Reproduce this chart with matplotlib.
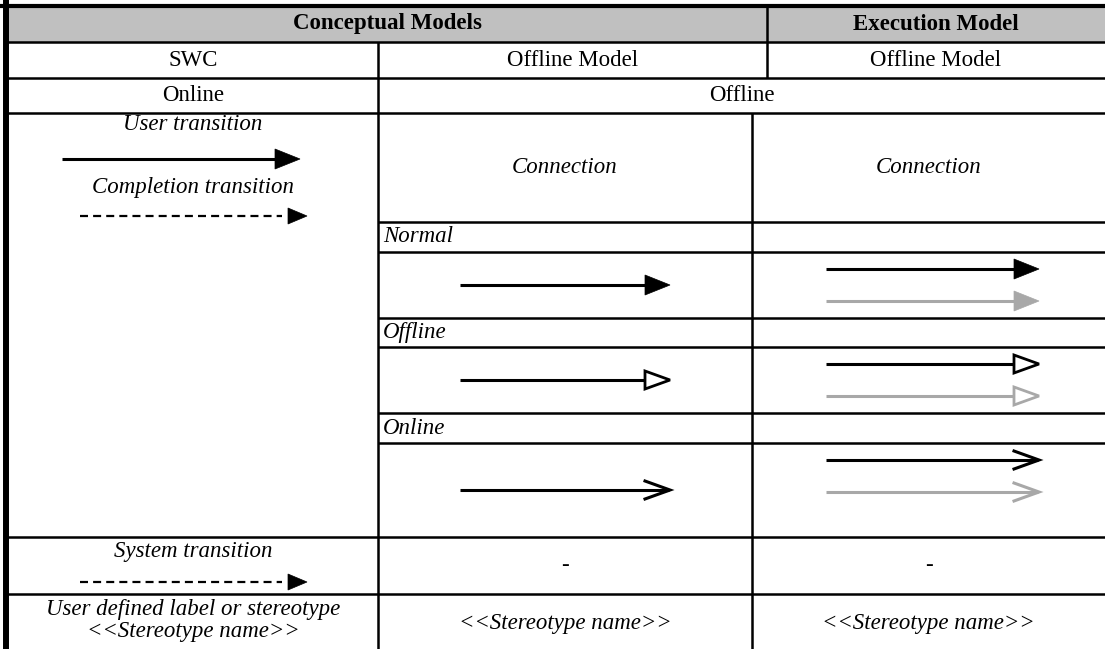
import matplotlib.pyplot as plt
from matplotlib.patches import Polygon, Rectangle

# ---- table content ----
header_texts = ['Conceptual Models', 'Execution Model']
row2_texts = ['SWC', 'Offline Model', 'Offline Model']
row3_texts = ['Online', 'Offline']
left_labels = ['User transition', 'Completion transition']
group_labels = ['Normal', 'Offline', 'Online']
head_kinds = ['filled', 'open', 'vee']
system_label = 'System transition'
stereo_left = ['User defined label or stereotype', '<<Stereotype name>>']
stereo_text = '<<Stereotype name>>'
dash_text = '-'

# row edges (pixels, top to bottom)
top = 6
y_hdr, y_r2, y_r3 = 42, 78, 113
y_conn = 222
group_rows = [(222, 252, 318), (318, 347, 413), (413, 443, 537)]
y_sys = 594
bottom = 649

# column edges
x_left = 8
x_c1 = 378
x_top_split = 767
x_c2 = 752
x_right = 1105

BLACK = '#000000'
GREY = '#a8a8a8'
FS = 16.5
LW = 1.8

fig = plt.figure(figsize=(11.05, 6.49), dpi=100)
ax = fig.add_axes([0, 0, 1, 1])
ax.set_xlim(0, 1105)
ax.set_ylim(649, 0)
ax.axis('off')


def txt(x, y, s, ha='center', style='normal', weight='normal'):
    ax.text(x, y, s, ha=ha, va='center', fontsize=FS, family='Liberation Serif',
            style=style, weight=weight, color='black')


def hline(y, x0, x1, lw=LW):
    ax.plot([x0, x1], [y, y], color='black', lw=lw, solid_capstyle='butt')


def vline(x, y0, y1, lw=LW):
    ax.plot([x, x], [y0, y1], color='black', lw=lw, solid_capstyle='butt')


def arrow(x0, x1, y, kind='filled', color=BLACK, dashed=False):
    hl, hw = 25, 10
    if dashed:
        ax.plot([x0, x1 - hl], [y, y], color=color, lw=1.6, linestyle=(0, (3.6, 2.3)))
        ax.add_patch(Polygon([[x1, y], [x1 - hl + 6, y - 8], [x1 - hl + 6, y + 8]],
                             closed=True, fc=color, ec=color, lw=0.5))
        return
    if kind == 'filled':
        ax.plot([x0, x1 - hl + 2], [y, y], color=color, lw=2.2, solid_capstyle='butt')
        ax.add_patch(Polygon([[x1, y], [x1 - hl, y - hw], [x1 - hl, y + hw]],
                             closed=True, fc=color, ec=color, lw=0.5))
    elif kind == 'open':
        ax.plot([x0, x1 - hl], [y, y], color=color, lw=2.2, solid_capstyle='butt')
        ax.add_patch(Polygon([[x1, y], [x1 - hl, y - 9], [x1 - hl, y + 9]],
                             closed=True, fc='white', ec=color, lw=2.0, joinstyle='miter'))
    else:
        ax.plot([x0, x1 - 1], [y, y], color=color, lw=2.2, solid_capstyle='butt')
        ax.plot([x1 - hl, x1, x1 - hl], [y - 9, y, y + 9], color=color, lw=2.2,
                solid_joinstyle='miter')


# header background
ax.add_patch(Rectangle((x_left, top), x_right - x_left, y_hdr - top, fc='#c0c0c0', ec='none'))

# grid lines
hline(top, 0, x_right, lw=3.0)
vline(x_left - 2, 0, bottom, lw=4.3)
for y in (y_hdr, y_r2, y_r3, group_rows[2][2], y_sys):
    hline(y, x_left, x_right)
for y_a, y_b, y_c in group_rows:
    hline(y_a, x_c1, x_right)
    hline(y_b, x_c1, x_right)
vline(x_top_split, top, y_r2)
vline(x_c1, y_hdr, bottom)
vline(x_c2, y_r3, bottom)

# header and top rows
txt((x_left + x_top_split) / 2, (top + y_hdr) / 2, header_texts[0], weight='bold')
txt((x_top_split + x_right) / 2, (top + y_hdr) / 2, header_texts[1], weight='bold')
txt((x_left + x_c1) / 2, (y_hdr + y_r2) / 2, row2_texts[0])
txt((x_c1 + x_top_split) / 2, (y_hdr + y_r2) / 2, row2_texts[1])
txt((x_top_split + x_right) / 2, (y_hdr + y_r2) / 2, row2_texts[2])
txt((x_left + x_c1) / 2, (y_r2 + y_r3) / 2, row3_texts[0])
txt((x_c1 + x_right) / 2, (y_r2 + y_r3) / 2, row3_texts[1])

# left column legend
cx_left = (x_left + x_c1) / 2
txt(cx_left, y_r3 + 12, left_labels[0], style='italic')
arrow(62, 300, y_r3 + 46)
txt(cx_left, y_r3 + 74, left_labels[1], style='italic')
arrow(80, 307, y_r3 + 103, dashed=True)

# connection row
cx_mid = (x_c1 + x_c2) / 2
cx_right = (x_c2 + x_right) / 2
txt(cx_mid, (y_r3 + y_conn) / 2, 'Connection', style='italic')
txt(cx_right, (y_r3 + y_conn) / 2, 'Connection', style='italic')

# groups
for (y_a, y_b, y_c), label, kind in zip(group_rows, group_labels, head_kinds):
    txt(x_c1 + 5, (y_a + y_b) / 2, label, ha='left', style='italic')
    arrow(460, 670, (y_b + y_c) / 2, kind=kind)
    arrow(826, 1039, y_b + 17, kind=kind, color=BLACK)
    arrow(826, 1039, y_b + 49, kind=kind, color=GREY)

# system transition row
y_on = group_rows[2][2]
txt(cx_left, y_on + 15, system_label, style='italic')
arrow(80, 307, y_on + 45, dashed=True)
txt(cx_mid, (y_on + y_sys) / 2, dash_text)
txt(cx_right, (y_on + y_sys) / 2, dash_text)

# stereotype row
txt(cx_left, y_sys + 16, stereo_left[0], style='italic')
txt(cx_left, y_sys + 38, stereo_left[1], style='italic')
txt(cx_mid, y_sys + 30, stereo_text, style='italic')
txt(cx_right, y_sys + 30, stereo_text, style='italic')

fig.savefig('out.png', dpi=100)
